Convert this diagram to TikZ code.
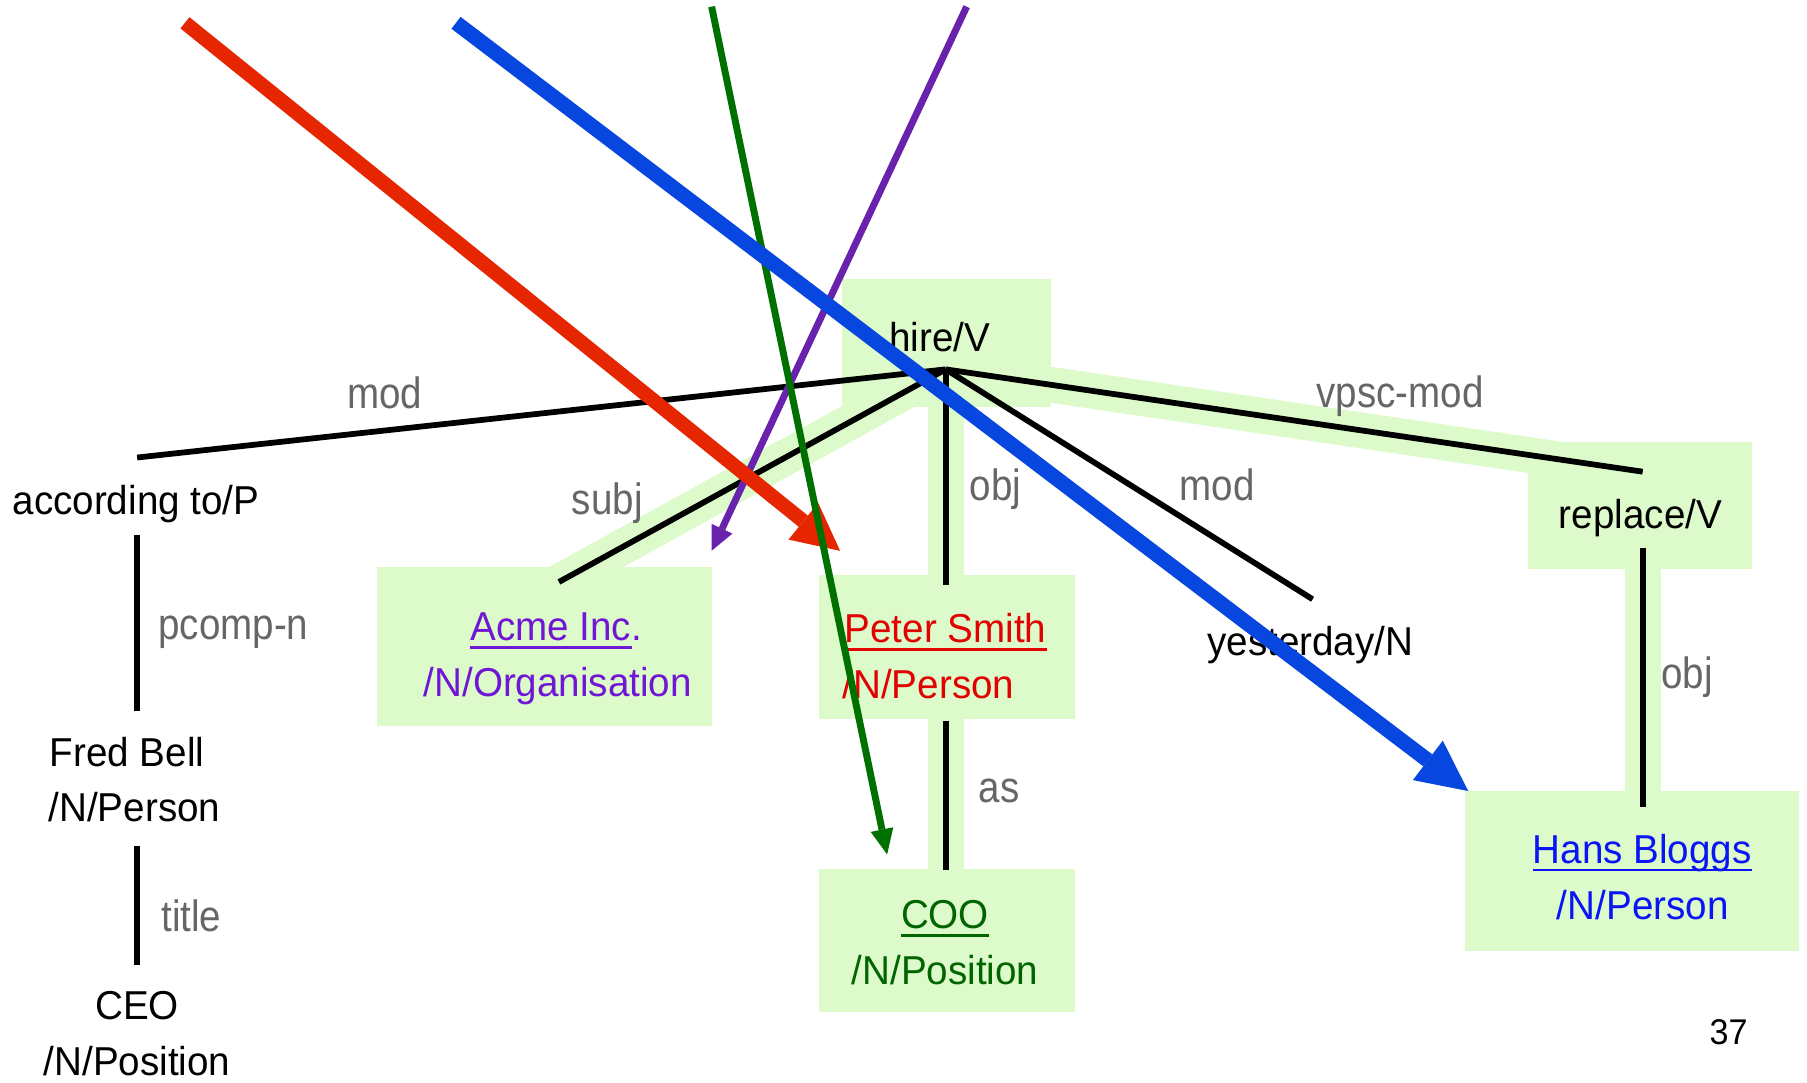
\documentclass[tikz,border=0pt]{standalone}
\usepackage{fontspec}
\setmainfont{Liberation Sans}
\newfontfamily\wordfont[FakeStretch=0.957]{Liberation Sans}
\newfontfamily\lblfont[FakeStretch=0.88]{Liberation Sans}
\usetikzlibrary{arrows.meta}

\definecolor{hl}{RGB}{221,250,202}
\definecolor{lblgray}{RGB}{102,102,102}
\definecolor{acmeviolet}{RGB}{112,22,212}
\definecolor{personred}{RGB}{226,0,0}
\definecolor{posgreen}{RGB}{0,100,0}
\definecolor{hansblue}{RGB}{10,20,245}
\definecolor{arrred}{RGB}{229,38,0}
\definecolor{arrblue}{RGB}{8,70,224}
\definecolor{arrgreen}{RGB}{0,112,0}
\definecolor{arrpurple}{RGB}{104,34,172}

\begin{document}
\begin{tikzpicture}[x=1pt,y=-1pt,
  txt/.style={inner sep=0pt, anchor=base, font=\wordfont\fontsize{35}{42}\selectfont},
  txtl/.style={txt, anchor=base west},
  lbl/.style={inner sep=0pt, anchor=base, text=lblgray, font=\lblfont\fontsize{38}{44}\selectfont},
  hlbox/.style={fill=hl, draw=none},
  band/.style={draw=hl, line width=31pt},
  dep/.style={draw=black, line width=5pt},
  ul/.style={line width=2.3pt},
]
\useasboundingbox (0,0) rectangle (1568,939);

% attachment points of the dependency edges
\coordinate (hub)       at (820.6,320.5);
\coordinate (accTop)    at (119,397);
\coordinate (acmeTop)   at (485,505);
\coordinate (peterTop)  at (820.6,507.6);
\coordinate (yestTop)   at (1139,520);
\coordinate (replTop)   at (1425.4,409.3);
\coordinate (accFoot)   at (119,464);
\coordinate (fredTop)   at (119,617);
\coordinate (fredFoot)  at (119,734);
\coordinate (ceoTop)    at (119,837);
\coordinate (peterFoot) at (820.6,625.4);
\coordinate (cooTop)    at (820.6,755);
\coordinate (replFoot)  at (1425.4,475.8);
\coordinate (hansTop)   at (1425.4,700);

% highlighted path: bands behind the selected edges
\draw[band] (hub) -- (acmeTop);
\draw[band] (hub) -- (replTop);
\draw[band] (hub) -- (peterTop);
\draw[band, shorten <=-6pt, shorten >=-6pt] (peterFoot) -- (cooTop);
\draw[band] (replFoot) -- (hansTop);

% highlighted boxes
\fill[hlbox] (730.4,242) rectangle (912,353);
\fill[hlbox] (327,492) rectangle (617.5,630);
\fill[hlbox] (711,499) rectangle (932.8,624);
\fill[hlbox] (711,754) rectangle (932.8,878);
\fill[hlbox] (1325.6,383.3) rectangle (1520,494);
\fill[hlbox] (1271,686.4) rectangle (1561,825);

% dependency edges
\draw[dep] (hub) -- (accTop);
\draw[dep] (hub) -- (acmeTop);
\draw[dep] (hub) -- (peterTop);
\draw[dep] (hub) -- (yestTop);
\draw[dep] (hub) -- (replTop);
\draw[dep] (accFoot) -- (fredTop);
\draw[dep] (fredFoot) -- (ceoTop);
\draw[dep] (peterFoot) -- (cooTop);
\draw[dep] (replFoot) -- (hansTop);

% words
\node[txt] (hire) at (815.6,305) {hire/V};
\node[txt] (acc) at (118,446.3) {according to/P};
\node[txtl] (fred1) at (43,665) {Fred Bell};
\node[txtl] (fred2) at (42,713) {/N/Person};
\node[txt] (ceo1) at (119,885) {CEO};
\node[txt] (ceo2) at (119,933) {/N/Position};
\node[txtl, text=acmeviolet] (acme1) at (408,556) {Acme Inc\rlap{.}};
\node[txt, text=acmeviolet] (acme2) at (484,604) {/N/Organisation};
\node[txtl, text=personred] (peter1) at (732.7,557.7) {Peter Smith};
\node[txtl, text=personred] (peter2) at (731,606) {/N/Person};
\node[txt, text=posgreen] (coo1) at (820,806) {COO};
\node[txt, text=posgreen] (coo2) at (820,854) {/N/Position};
\node[txt] (yest) at (1137,568.5) {yesterday/N};
\node[txt] (repl) at (1423.5,458.5) {replace/V};
\node[txt, text=hansblue] (hans1) at (1425,749) {Hans Bloggs};
\node[txt, text=hansblue] (hans2) at (1425.5,798) {/N/Person};
\node[txt, font=\wordfont\fontsize{31}{36}\selectfont] (pageno) at (1500,906) {37};

% underlines of the linked words
\draw[ul, acmeviolet] ([yshift=-6pt]acme1.base west) -- ([yshift=-6pt]acme1.base east);
\draw[ul, personred] ([yshift=-6pt]peter1.base west) -- ([yshift=-6pt]peter1.base east);
\draw[ul, posgreen] ([yshift=-6pt]coo1.base west) -- ([yshift=-6pt]coo1.base east);
\draw[ul, hansblue] ([yshift=-6pt]hans1.base west) -- ([yshift=-6pt]hans1.base east);

% edge labels
\node[lbl] (lmod1) at (334,354.5) {mod};
\node[lbl] (lsubj) at (527,446.5) {subj};
\node[lbl] (lobj1) at (864,434) {obj};
\node[lbl] (lmod2) at (1056,434.5) {mod};
\node[lbl] (lvpsc) at (1215,354) {vpsc-mod};
\node[lbl] (lpcomp) at (202.5,555) {pcomp-n};
\node[lbl] (las) at (867,696) {as};
\node[lbl] (ltitle) at (166,808.5) {title};
\node[lbl] (lobj2) at (1464,597) {obj};

% coloured pointers
\coordinate (pS) at (838.8,5.8);   \coordinate (pE) at (617.6,477.8);
\coordinate (rS) at (160.5,19.8);  \coordinate (rE) at (729,478);
\coordinate (gS) at (617.5,5.8);   \coordinate (gE) at (769.8,741.4);
\coordinate (bS) at (395.7,19.8);  \coordinate (bE) at (1274,686.4);

\draw[arrpurple, line width=6pt, -{Triangle[length=21pt,width=20pt,line width=0pt]}] (pS) -- (pE);
\draw[arrred, line width=12.5pt, -{Triangle[length=41pt,width=41pt,line width=0pt]}] (rS) -- (rE);
\draw[arrgreen, line width=6pt, -{Triangle[length=22pt,width=20pt,line width=0pt]}] (gS) -- (gE);
\draw[arrblue, line width=13pt, -{Triangle[length=44pt,width=43pt,line width=0pt]}] (bS) -- (bE);
\end{tikzpicture}
\end{document}
